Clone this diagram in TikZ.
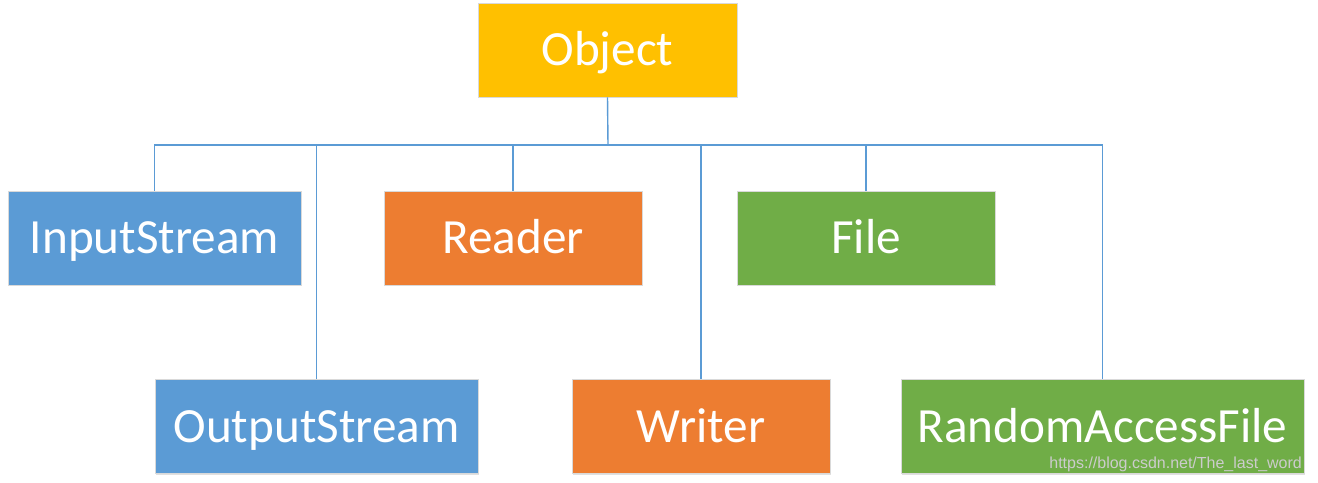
\documentclass[tikz,border=0pt]{standalone}
\usepackage{fontspec}
\setmainfont{Carlito}
\newfontfamily\markfont{Liberation Sans}
\usetikzlibrary{shadows}
\definecolor{objgiallo}{HTML}{FFC000}
\definecolor{streamblu}{HTML}{5B9BD5}
\definecolor{charrosso}{HTML}{ED7D31}
\definecolor{fileverde}{HTML}{70AD47}
\definecolor{bordo}{HTML}{D9D9D9}
\begin{document}
\begin{tikzpicture}[x=0.02cm, y=-0.02cm,
    classe/.style={draw=bordo, line width=0.4pt, minimum height=1.88cm, inner sep=0pt,
        text height=18pt, text depth=0pt,
        text=white, font=\fontsize{28}{32}\selectfont,
        drop shadow={shadow xshift=0.6pt, shadow yshift=-0.8pt, fill=black, opacity=0.12}},
    linea/.style={draw=streamblu, line width=0.8pt}]
    \useasboundingbox (0,0) rectangle (1318,483);

    % Radice della gerarchia
    \node[classe, fill=objgiallo, minimum width=5.18cm] (object) at (607.5,50) {Object};

    % Prima riga: classi in alto
    \node[classe, fill=streamblu, minimum width=5.86cm] (input) at (154.5,238) {InputStream};
    \node[classe, fill=charrosso, minimum width=5.16cm] (reader) at (513,238) {Reader};
    \node[classe, fill=fileverde, minimum width=5.16cm] (file) at (866,238) {File};

    % Seconda riga: classi in basso
    \node[classe, fill=streamblu, minimum width=6.46cm] (output) at (316.5,426.5) {OutputStream};
    \node[classe, fill=charrosso, minimum width=5.16cm] (writer) at (701,426.5) {Writer};
    \node[classe, fill=fileverde, minimum width=8.06cm] (random) at (1102.5,426.5) {RandomAccessFile};

    % Collegamenti verso la barra orizzontale
    \coordinate (barra) at (608,145);
    \draw[linea] (object.south) -- (barra);
    \foreach \c in {input, output, reader, writer, file, random} {
        \draw[linea] (\c.north) |- (barra);
    }

    \node[text=gray!40, font=\markfont\fontsize{9.1}{11}\selectfont, anchor=east] (marca) at (1308,464) {https://blog.csdn.net/The\_last\_word};
\end{tikzpicture}
\end{document}
